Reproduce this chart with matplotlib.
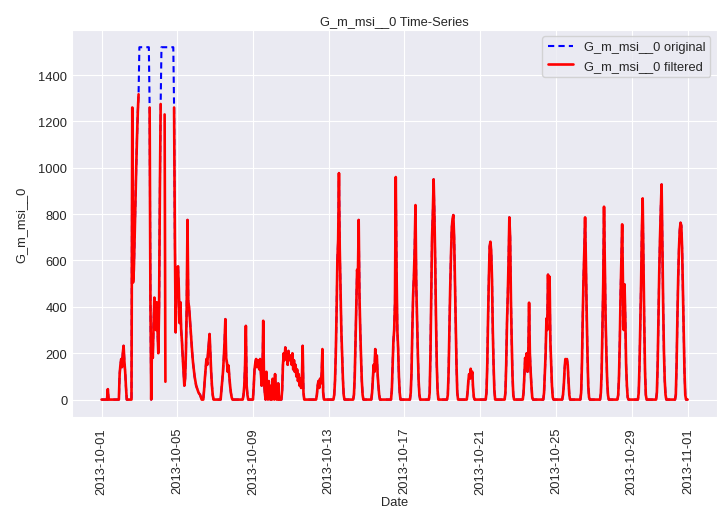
import numpy as np
import pandas as pd
import matplotlib
matplotlib.use("Agg")
import matplotlib.pyplot as plt
import matplotlib.dates as mdates
import seaborn as sns

nan = np.nan

# hourly values, one row per day (filtered series; nan = removed)
oct01_07 = [
    [0, 0, 0, 0, 0, 0, 0, 0, 45, 0, 0, 0, 0, 0, 0, 0, 0, 0, 0, 0, 0, 0, 0, 110],
    [150, 175, 140, 200, 232, 165, 120, 55, 0, 0, 0, 0, 0, 0, 0, 1260, 505, 560, 700, 860, 1000, 1130, 1240, 1317],
    [nan, nan, nan, nan, nan, nan, nan, nan, nan, nan, nan, nan, nan, 1260, 440, 0, 250, 180, 320, 440, 400, 300, 420, 300],
    [200, 400, 900, 1275, nan, nan, nan, nan, 1230, 77, nan, nan, nan, nan, nan, nan, nan, nan, nan, nan, 1260, 700, 290, 450],
    [560, 575, 480, 330, 420, 300, 250, 180, 120, 60, 90, 200, 400, 775, 420, 400, 350, 300, 250, 200, 160, 130, 100, 80],
    [60, 50, 40, 30, 25, 20, 10, 0, 0, 0, 40, 90, 130, 175, 150, 200, 240, 283, 200, 120, 60, 20, 0, 0],
    [0, 0, 0, 0, 0, 0, 0, 0, 40, 80, 120, 180, 250, 347, 180, 160, 120, 147, 100, 60, 30, 10, 0, 0],
]
oct08_14 = [
    [0, 0, 0, 0, 0, 0, 0, 0, 0, 0, 0, 0, 20, 60, 150, 318, 60, 20, 0, 0, 0, 0, 0, 0],
    [0, 60, 130, 160, 175, 140, 170, 150, 130, 175, 120, 60, 100, 340, 80, 30, 0, 120, 40, 0, 80, 20, 0, 60],
    [0, 90, 20, 0, 110, 30, 0, 0, 70, 0, 0, 0, 0, 40, 150, 200, 170, 225, 180, 200, 150, 210, 170, 190],
    [190, 150, 200, 130, 170, 120, 150, 100, 130, 80, 110, 60, 90, 50, 80, 232, 30, 0, 0, 0, 0, 0, 0, 0],
    [0, 0, 0, 0, 0, 0, 0, 0, 0, 20, 60, 80, 50, 90, 70, 110, 218, 30, 0, 0, 0, 0, 0, 0],
    [0, 0, 0, 0, 0, 0, 0, 20, 80, 200, 380, 600, 690, 977, 650, 480, 300, 200, 90, 20, 0, 0, 0, 0],
    [0, 0, 0, 0, 0, 0, 0, 0, 20, 100, 250, 400, 560, 520, 775, 450, 300, 180, 80, 20, 0, 0, 0, 0],
]
oct15_21 = [
    [0, 0, 0, 0, 0, 0, 0, 30, 90, 150, 120, 218, 160, 190, 110, 60, 20, 0, 0, 0, 0, 0, 0, 0],
    [0, 0, 0, 0, 0, 0, 0, 0, 40, 150, 250, 300, 420, 960, 560, 300, 220, 100, 30, 0, 0, 0, 0, 0],
    [0, 0, 0, 0, 0, 0, 0, 0, 30, 120, 300, 450, 532, 650, 839, 500, 350, 200, 80, 20, 0, 0, 0, 0],
    [0, 0, 0, 0, 0, 0, 0, 0, 30, 200, 450, 700, 804, 950, 800, 600, 350, 150, 40, 0, 0, 0, 0, 0],
    [0, 0, 0, 0, 0, 0, 0, 20, 120, 300, 480, 620, 740, 780, 796, 700, 520, 320, 150, 30, 0, 0, 0, 0],
    [0, 0, 0, 0, 0, 0, 0, 0, 30, 80, 110, 90, 133, 100, 120, 50, 10, 0, 0, 0, 0, 0, 0, 0],
    [0, 0, 0, 0, 0, 0, 0, 0, 30, 150, 350, 518, 660, 681, 640, 520, 300, 150, 40, 0, 0, 0, 0, 0],
]
oct22_31 = [
    [0, 0, 0, 0, 0, 0, 0, 0, 30, 150, 330, 450, 600, 786, 700, 430, 250, 100, 20, 0, 0, 0, 0, 0],
    [0, 0, 0, 0, 0, 0, 0, 30, 100, 180, 150, 200, 120, 190, 418, 200, 120, 60, 10, 0, 0, 0, 0, 0],
    [0, 0, 0, 0, 0, 0, 0, 0, 0, 30, 120, 200, 350, 300, 539, 400, 530, 250, 150, 60, 10, 0, 0, 0],
    [0, 0, 0, 0, 0, 0, 0, 0, 0, 20, 60, 130, 175, 170, 175, 150, 80, 20, 0, 0, 0, 0, 0, 0],
    [0, 0, 0, 0, 0, 0, 0, 0, 30, 150, 350, 520, 640, 786, 600, 380, 200, 60, 10, 0, 0, 0, 0, 0],
    [0, 0, 0, 0, 0, 0, 0, 0, 0, 30, 120, 300, 500, 832, 600, 350, 200, 80, 20, 0, 0, 0, 0, 0],
    [0, 0, 0, 0, 0, 0, 0, 20, 100, 250, 450, 600, 756, 500, 300, 497, 350, 150, 60, 10, 0, 0, 0, 0],
    [0, 0, 0, 0, 0, 0, 0, 0, 0, 30, 150, 330, 500, 732, 868, 600, 330, 120, 20, 0, 0, 0, 0, 0],
    [0, 0, 0, 0, 0, 0, 0, 0, 30, 150, 350, 550, 700, 825, 928, 650, 400, 200, 80, 20, 0, 0, 0, 0],
    [0, 0, 0, 0, 0, 0, 0, 0, 20, 150, 350, 520, 650, 730, 763, 750, 650, 480, 300, 120, 20, 0, 0, 0],
]

# hours (from 2013-10-01 00:00) where the original sensor value sat at the cap
clipped_hours = [48, 49, 50, 51, 52, 53, 54, 55, 56, 57, 58, 59, 60,
                 76, 77, 78, 79, 80, 81, 82, 83, 84, 85, 86, 87, 88, 89, 90, 91]
clip_value = 1520

filtered = np.concatenate([np.ravel(oct01_07), np.ravel(oct08_14),
                           np.ravel(oct15_21), np.ravel(oct22_31)]).astype(float)
original = filtered.copy()
original[clipped_hours] = clip_value

idx = pd.date_range("2013-10-01", periods=len(filtered), freq="h")
df = pd.DataFrame({"original": original, "filtered": filtered}, index=idx)

sns.set_style("darkgrid")
plt.rcParams["font.family"] = ["Liberation Sans", "DejaVu Sans"]

fig, ax = plt.subplots(figsize=(7.22, 5.10), dpi=100)
fig.subplots_adjust(left=0.10, right=0.993, top=0.94, bottom=0.18)

ax.plot(df.index, df["original"], color="blue", linestyle="--", dashes=(3, 2),
        linewidth=1.5, label="G_m_msi__0 original")
ax.plot(df.index, df["filtered"], color="red", linewidth=1.9,
        label="G_m_msi__0 filtered")

ax.xaxis.set_major_locator(mdates.DayLocator(bymonthday=[1, 5, 9, 13, 17, 21, 25, 29]))
ax.xaxis.set_major_formatter(mdates.DateFormatter("%Y-%m-%d"))
plt.setp(ax.get_xticklabels(), rotation=90)
ax.tick_params(labelsize=9.3)
ax.tick_params(axis="y", pad=0)

ax.set_title("G_m_msi__0 Time-Series", fontsize=9.3, pad=4)
ax.set_xlabel("Date", fontsize=9.3, labelpad=2)
ax.set_ylabel("G_m_msi__0", fontsize=9.3, labelpad=8)
ax.legend(loc="upper right", fontsize=9.3)

fig.savefig("out.png", dpi=100)
